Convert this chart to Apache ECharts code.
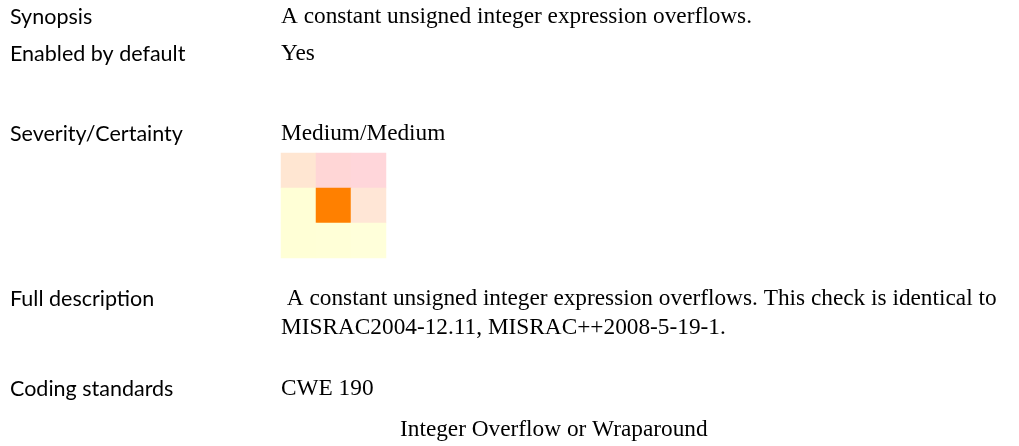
<!DOCTYPE html>
<html>
<head>
<meta charset="utf-8">
<script src="https://cdn.jsdelivr.net/npm/echarts@6/dist/echarts.min.js"></script>
<style>
html,body{margin:0;padding:0;background:#fff;}
#main{width:1019px;height:446px;}
</style>
</head>
<body>
<div id="main"></div>
<script>
// Field labels and values
const fieldLabels = ['Synopsis', 'Enabled by default', 'Severity/Certainty', 'Full description', 'Coding standards'];
const synopsisText = 'A constant unsigned integer expression overflows.';
const enabledText = 'Yes';
const severityText = 'Medium/Medium';
const fullDescLines = [' A constant unsigned integer expression overflows. This check is identical to', 'MISRAC2004-12.11, MISRAC++2008-5-19-1.'];
const codingStandard = 'CWE 190';
const codingStandardName = 'Integer Overflow or Wraparound';

// Severity/certainty grid (3x3): columns and rows
const gridCols = ['c0', 'c1', 'c2'];
const gridRows = ['r0', 'r1', 'r2'];
// cell level codes [col, row, level]; row r0 is top
const gridCells = [
  [0, 0, 1], [1, 0, 2], [2, 0, 2],
  [0, 1, 0], [1, 1, 9], [2, 1, 1],
  [0, 2, 0], [1, 2, 0], [2, 2, 0]
];
// colors per cell (style)
const cellColors = [
  ['#FFE6D2', '#FFD6D6', '#FFD6DA'],
  ['#FFFFD6', '#FF8000', '#FFE6D6'],
  ['#FFFFD6', '#FFFFD7', '#FFFFDA']
];

const labelFont = 'Lato, "Noto Sans", sans-serif';
const valueFont = '"Liberation Serif", "DejaVu Serif", serif';
const labelX = 10, valueX = 281;
const labelYs = [18, 55, 135, 300, 390];

const graphics = [];
fieldLabels.forEach((t, i) => {
  graphics.push({type: 'text', left: labelX, top: labelYs[i] - 12,
    style: {text: t, font: '21.5px ' + labelFont, fill: '#000'}});
});
const vals = [[synopsisText, labelYs[0]], [enabledText, labelYs[1]], [severityText, labelYs[2]],
  [fullDescLines[0], labelYs[3]], [fullDescLines[1], labelYs[3] + 29], [codingStandard, labelYs[4]]];
vals.forEach(([t, y]) => {
  graphics.push({type: 'text', left: valueX, top: y - 13,
    style: {text: t, font: '23.3px ' + valueFont, fill: '#000'}});
});
graphics.push({type: 'text', left: 400, top: 431 - 13,
  style: {text: codingStandardName, font: '23.3px ' + valueFont, fill: '#000'}});

const chart = echarts.init(document.getElementById('main'));
chart.setOption({
  animation: false,
  grid: {left: 281, top: 153, width: 105, height: 105},
  xAxis: {type: 'category', data: gridCols, show: false},
  yAxis: {type: 'category', data: gridRows, inverse: true, show: false},
  graphic: graphics,
  series: [{
    type: 'heatmap',
    data: gridCells.map(c => ({value: c, itemStyle: {color: cellColors[c[1]][c[0]]}})),
    itemStyle: {borderWidth: 0},
    emphasis: {disabled: true}
  }]
});
</script>
</body>
</html>
